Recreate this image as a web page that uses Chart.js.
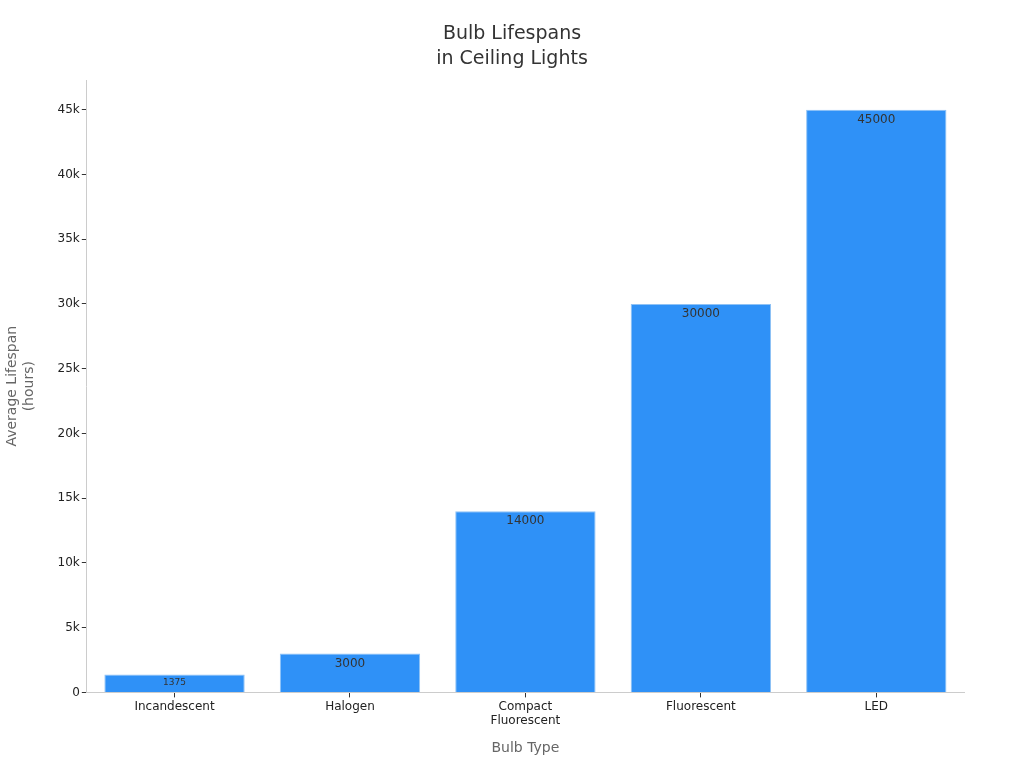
<!DOCTYPE html>
<html><head><meta charset="utf-8">
<script src="https://cdn.jsdelivr.net/npm/chart.js"></script>
<style>html,body{margin:0;padding:0;background:#fff}#w{width:1024px;height:768px}</style>
</head><body><div id="w"><canvas id="c"></canvas></div>
<script>
const titleLines = ['Bulb Lifespans','in Ceiling Lights'];
const categories = [["Incandescent"],["Halogen"],["Compact","Fluorescent"],["Fluorescent"],["LED"]];
const lifespans = [1375, 3000, 14000, 30000, 45000];
const labelSizes = [9, 12, 12, 12, 12];
const tickValues = [0,5000,10000,15000,20000,25000,30000,35000,40000,45000];

Chart.defaults.font.family = "DejaVu Sans";
const valueLabels = {
  id:'valueLabels',
  afterDatasetsDraw(chart){
    const ctx = chart.ctx, meta = chart.getDatasetMeta(0);
    ctx.save(); ctx.fillStyle='#333'; ctx.textAlign='center'; ctx.textBaseline='top';
    meta.data.forEach((b,i)=>{
      ctx.font = labelSizes[i]+'px DejaVu Sans';
      ctx.fillText(String(lifespans[i]), b.x, b.y+4);
    });
    ctx.font='19px DejaVu Sans'; ctx.fillStyle='#333'; ctx.textBaseline='middle';
    titleLines.forEach((t,i)=>ctx.fillText(t, chart.width/2, 34+i*25));
    ctx.restore();
  }
};
new Chart(document.getElementById('c'), {
  type:'bar',
  data:{labels:categories, datasets:[{data:lifespans, backgroundColor:'#2f91f7', borderColor:'#8fc2f5', borderWidth:1, categoryPercentage:1, barPercentage:0.8}]},
  options:{
    responsive:true, maintainAspectRatio:false, animation:false,
    layout:{padding:{left:0,right:60,top:80,bottom:7}},
    plugins:{legend:{display:false}, tooltip:{enabled:false}, title:{display:false}},
    scales:{
      x:{grid:{display:true, offset:false, drawOnChartArea:false, drawTicks:true, tickLength:5, color:'#333'}, border:{color:'#ccc'},
         ticks:{color:'#222', font:{size:12}, maxRotation:0, padding:2},
         title:{display:true, text:'Bulb Type', color:'#666', font:{size:14}, padding:{top:10}}},
      y:{min:0, max:47300, grid:{display:true, drawOnChartArea:false, drawTicks:true, tickLength:5, color:'#333'}, border:{color:'#ccc'},
         afterBuildTicks(a){a.ticks = tickValues.map(v=>({value:v}));},
         ticks:{color:'#222', font:{size:12}, padding:2, callback:v=> v===0?'0':(v/1000)+'k'},
         title:{display:true, text:['Average Lifespan','(hours)'], color:'#666', font:{size:14}, padding:{bottom:18}}}
    }
  },
  plugins:[valueLabels]
});
</script></body></html>
